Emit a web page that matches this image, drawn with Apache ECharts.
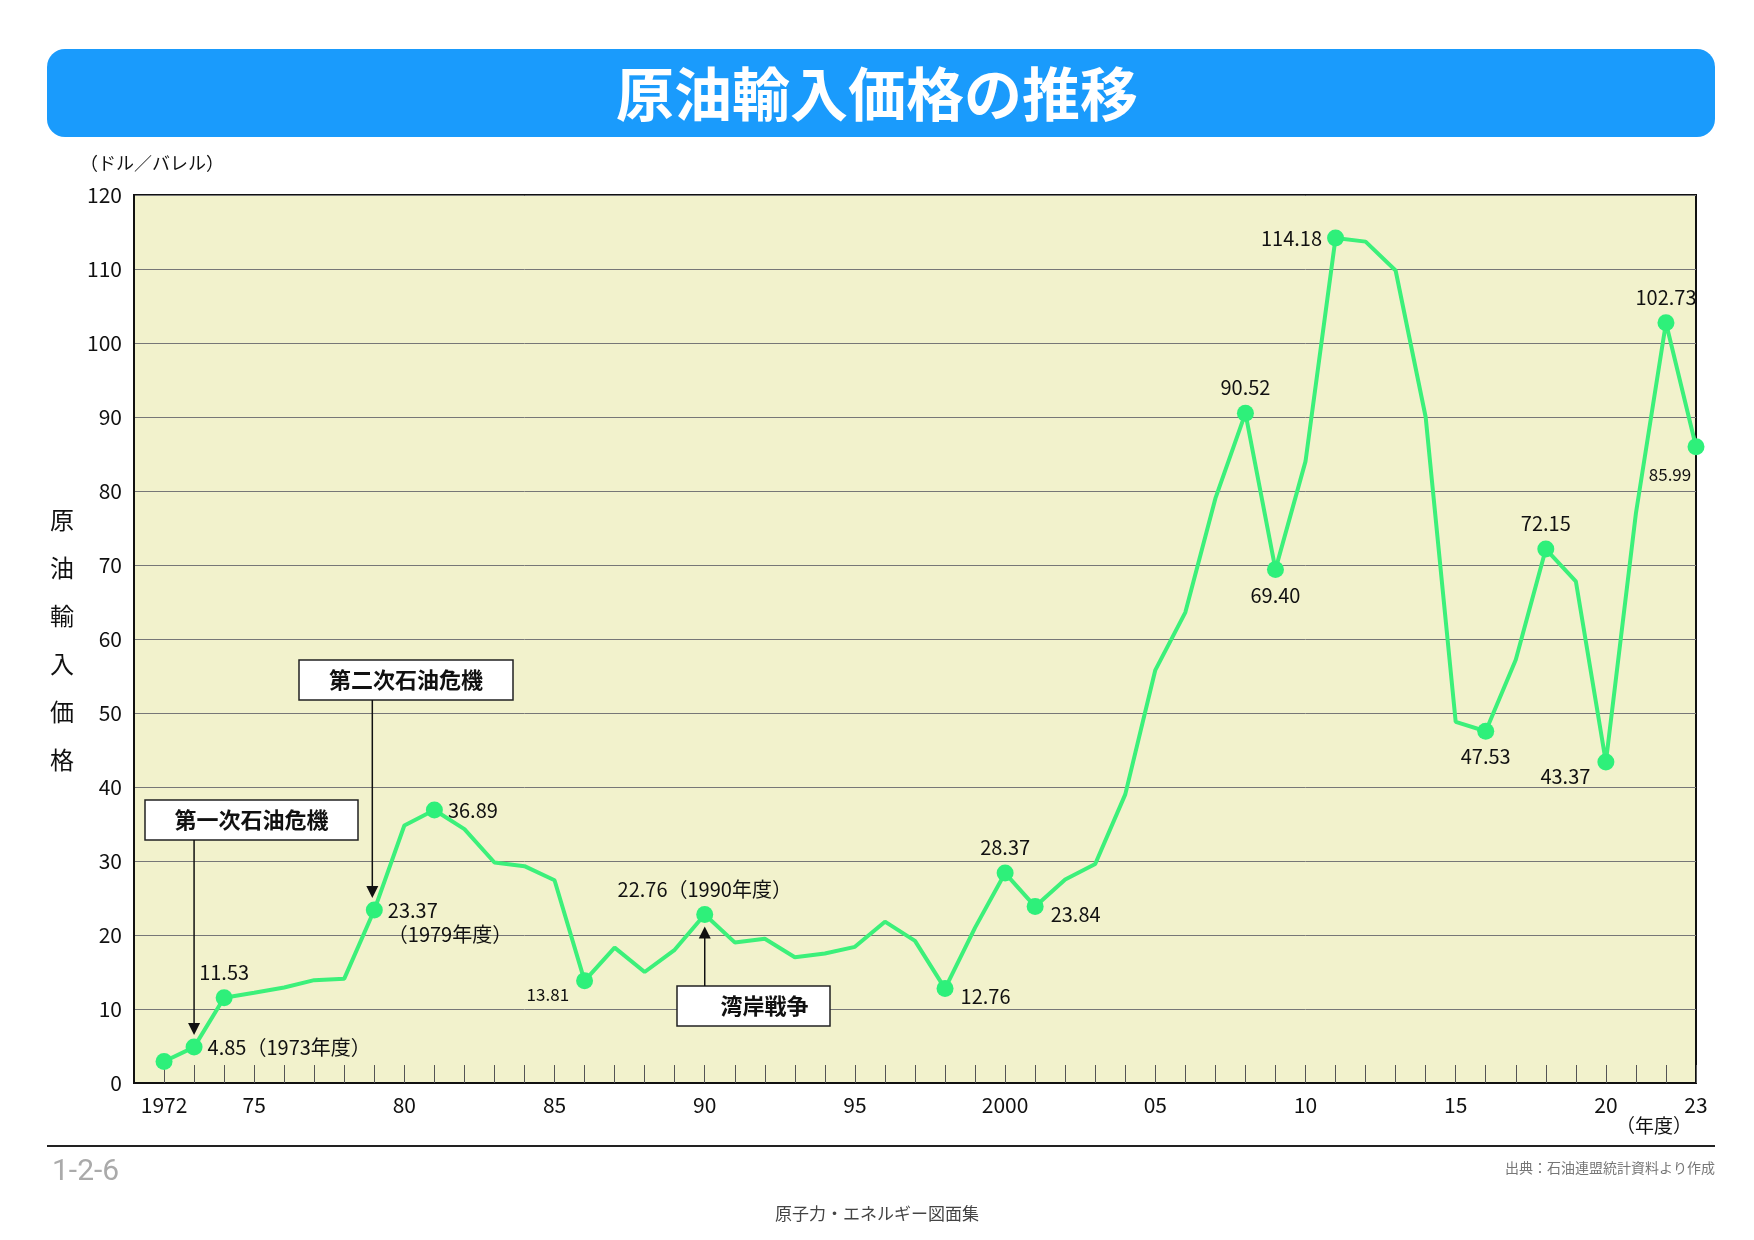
<!DOCTYPE html>
<html>
<head>
<meta charset="utf-8">
<script src="https://cdn.jsdelivr.net/npm/echarts@6/dist/echarts.min.js"></script>
<style>
html,body{margin:0;padding:0;background:#fff;}
#main{width:1754px;height:1240px;}
</style>
</head>
<body>
<div id="main"></div>
<script>
// 年度（先頭の1971は余白用の空カテゴリ）
var years = [];
for (var y = 1971; y <= 2023; y++) years.push(y);
// 原油輸入価格（ドル／バレル）1972〜2023
var prices = [2.9, 4.85, 11.53, 12.2, 12.9, 13.9, 14.1, 23.37, 34.8, 36.89,
  34.3, 29.8, 29.3, 27.4, 13.81, 18.3, 15.0, 18.0, 22.76, 19.0,
  19.5, 17.0, 17.5, 18.4, 21.8, 19.2, 12.76, 21.0, 28.37, 23.84,
  27.5, 29.6, 39.0, 55.8, 63.6, 79.0, 90.52, 69.40, 84.0, 114.18,
  113.7, 109.8, 90.0, 48.8, 47.53, 57.2, 72.15, 67.8, 43.37, 77.0,
  102.73, 85.99];
// x軸の目盛ラベル
var tickLabels = {1972:'1972',1975:'75',1980:'80',1985:'85',1990:'90',1995:'95',
  2000:'2000',2005:'05',2010:'10',2015:'15',2020:'20',2023:'23'};
// 注記付きの点：年 -> [ラベル, 位置, 文字サイズ]
var notes = {
  1973:['4.85（1973年度）','right',20],
  1974:['11.53','top',20],
  1979:['23.37\n（1979年度）','right',20],
  1981:['36.89','right',20],
  1986:['13.81','bottomLeft',17],
  1990:['22.76（1990年度）','top',20],
  1998:['12.76','bottomRight',20],
  2000:['28.37','top',20],
  2001:['23.84','bottomRight',20],
  2008:['90.52','top',20],
  2009:['69.40','bottom',20],
  2011:['114.18','left',20],
  2016:['47.53','bottom',20],
  2018:['72.15','top',20],
  2020:['43.37','bottomLeft',20],
  2022:['102.73','top',20],
  2023:['85.99','bottomSmall',17]
};
var markerYears = [1972,1973,1974,1979,1981,1986,1990,1998,2000,2001,2008,2009,2011,2016,2018,2020,2022,2023];

var FONT = '"Noto Sans CJK JP", sans-serif';

var seriesData = ['-'].concat(prices.map(function (v, i) {
  var yr = 1972 + i;
  var d = {value: v, symbolSize: markerYears.indexOf(yr) >= 0 ? 17 : 0};
  var n = notes[yr];
  if (n) {
    var lab = {show: true, formatter: n[0], fontSize: n[2], color: '#111', fontFamily: FONT, lineHeight: 24};
    if (n[1] === 'bottomLeft') { lab.position = 'left'; lab.offset = [-2, 14]; }
    else if (n[1] === 'bottomRight') { lab.position = 'right'; lab.offset = [2, 8]; }
    else if (n[1] === 'bottomSmall') { lab.position = 'bottom'; lab.offset = [-26, 2]; }
    else if (n[1] === 'right' && yr === 1979) { lab.position = 'right'; lab.offset = [0, 12]; }
    else lab.position = n[1];
    d.label = lab;
  }
  return d;
}));

var myChart = echarts.init(document.getElementById('main'));

var option = {
  animation: false,
  textStyle: {fontFamily: FONT},
  grid: {left: 134, right: 58, top: 195, bottom: 157, show: true, backgroundColor: '#f2f2cc', borderColor: '#111', borderWidth: 2},
  xAxis: {
    type: 'category',
    data: years,
    boundaryGap: false,
    axisLine: {lineStyle: {color: '#111', width: 2}},
    axisTick: {inside: true, length: 18, interval: function (i) { return i > 0; }, lineStyle: {color: '#555'}},
    axisLabel: {
      interval: 0, color: '#111', fontSize: 21, margin: 12,
      formatter: function (v) { return tickLabels[v] || ''; }
    },
    splitLine: {show: false}
  },
  yAxis: {
    type: 'value', min: 0, max: 120, interval: 10,
    axisLine: {show: true, lineStyle: {color: '#111', width: 2}},
    axisTick: {show: false},
    axisLabel: {color: '#111', fontSize: 21, margin: 12},
    splitLine: {lineStyle: {color: '#777', width: 1}}
  },
  series: [{
    type: 'line',
    data: seriesData,
    symbol: 'circle',
    itemStyle: {color: '#2ef07a'},
    lineStyle: {color: '#3cf07a', width: 4},
    z: 5
  }]
};
myChart.setOption(option);

// 注記の枠と矢印
function px(yr) { return myChart.convertToPixel({gridIndex: 0}, [String(yr), prices[yr - 1972]]); }
function box(x, y, w, h, text) {
  return [{
    type: 'rect', shape: {x: x, y: y, width: w, height: h},
    style: {fill: '#fff', stroke: '#222', lineWidth: 1.5}, z: 20
  }, {
    type: 'text', x: x + w / 2, y: y + h / 2,
    style: {text: text, fontSize: 22, fontWeight: 'bold', fill: '#111', align: 'center', verticalAlign: 'middle', fontFamily: FONT}, z: 21
  }];
}
function arrow(x1, y1, x2, y2) {
  var dir = y2 > y1 ? 1 : -1;
  return [{
    type: 'line', shape: {x1: x1, y1: y1, x2: x2, y2: y2 - dir * 10},
    style: {stroke: '#111', lineWidth: 1.5}, z: 20
  }, {
    type: 'polygon', shape: {points: [[x2 - 6, y2 - dir * 12], [x2 + 6, y2 - dir * 12], [x2, y2]]},
    style: {fill: '#111'}, z: 20
  }];
}
var p73 = px(1973), p79 = px(1979), p90 = px(1990);
var g = [];
g = g.concat(box(145, 800, 213, 40, '第一次石油危機'));
g = g.concat(arrow(p73[0], 840, p73[0], p73[1] - 12));
g = g.concat(box(299, 660, 214, 40, '第二次石油危機'));
g = g.concat(arrow(p79[0] - 2, 700, p79[0] - 2, p79[1] - 12));
g = g.concat(box(677, 986, 153, 40, '　湾岸戦争'));
g = g.concat(arrow(p90[0], 986, p90[0], p90[1] + 12));
// タイトル帯
g.push({type: 'rect', shape: {x: 47, y: 49, width: 1668, height: 88, r: 18}, style: {fill: '#1a9bfc'}, z: 1});
g.push({type: 'text', x: 877, y: 94, z: 2, style: {text: '原油輸入価格の推移', fontSize: 58, fontWeight: 'bold', fill: '#fff', align: 'center', verticalAlign: 'middle', fontFamily: FONT}});
g.push({type: 'text', x: 80, y: 163, style: {text: '（ドル／バレル）', fontSize: 18, fill: '#111', verticalAlign: 'middle', fontFamily: FONT}});
g.push({type: 'text', x: 62, y: 640, style: {text: '原\n油\n輸\n入\n価\n格', fontSize: 24, lineHeight: 48, fill: '#111', align: 'center', verticalAlign: 'middle', fontFamily: FONT}});
g.push({type: 'text', x: 1692, y: 1126, style: {text: '（年度）', fontSize: 19, fill: '#111', align: 'right', verticalAlign: 'middle', fontFamily: FONT}});
g.push({type: 'line', shape: {x1: 47, y1: 1146, x2: 1715, y2: 1146}, style: {stroke: '#222', lineWidth: 2}});
g.push({type: 'text', x: 52, y: 1172, style: {text: '1-2-6', fontSize: 30, fill: '#aaa', verticalAlign: 'middle', fontFamily: 'Roboto, sans-serif'}});
g.push({type: 'text', x: 1715, y: 1168, style: {text: '出典：石油連盟統計資料より作成', fontSize: 14, fill: '#777', align: 'right', verticalAlign: 'middle', fontFamily: FONT}});
g.push({type: 'text', x: 877, y: 1214, style: {text: '原子力・エネルギー図面集', fontSize: 17, fill: '#444', align: 'center', verticalAlign: 'middle', fontFamily: FONT}});
myChart.setOption({graphic: g});
</script>
</body>
</html>
